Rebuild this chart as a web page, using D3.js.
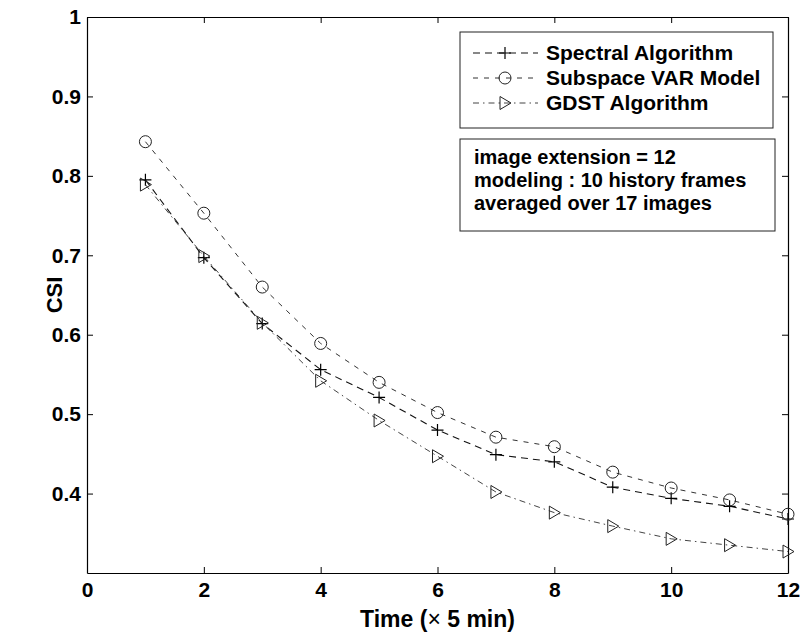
<!DOCTYPE html>
<html>
<head>
<meta charset="utf-8">
<script src="https://cdn.jsdelivr.net/npm/d3@7/dist/d3.min.js"></script>
<style>
  html, body { margin: 0; padding: 0; background: #fff; }
  svg { display: block; font-family: "Liberation Sans", Arial, Helvetica, sans-serif; }
  .axis text { font-weight: bold; font-size: 21px; fill: #000; }
  .axis path, .axis line { stroke: #000; }
</style>
</head>
<body>
<svg id="chart" width="804" height="636"></svg>
<script>
// CSI over forecast lead time (time steps of 5 minutes)
const timeSteps = [1, 2, 3, 4, 5, 6, 7, 8, 9, 10, 11, 12];
const spectral  = [0.795, 0.697, 0.614, 0.556, 0.521, 0.480, 0.449, 0.440, 0.408, 0.394, 0.384, 0.368];
const subspace  = [0.843, 0.753, 0.660, 0.589, 0.540, 0.502, 0.471, 0.459, 0.427, 0.407, 0.392, 0.374];
const gdst      = [0.789, 0.699, 0.615, 0.542, 0.492, 0.447, 0.402, 0.376, 0.359, 0.343, 0.335, 0.327];

const seriesNames = ["Spectral Algorithm", "Subspace VAR Model", "GDST Algorithm"];
const xTicks = [0, 2, 4, 6, 8, 10, 12];
const yTicks = [0.4, 0.5, 0.6, 0.7, 0.8, 0.9, 1];
const noteLines = ["image extension = 12", "modeling : 10 history frames", "averaged over 17 images"];

const svg = d3.select("#chart");
const plotL = 87, plotR = 788, plotT = 17, plotB = 573;

const x = d3.scaleLinear().domain([0, 12]).range([plotL, plotR]);
const y = d3.scaleLinear().domain([0.3, 1]).range([plotB, plotT]);

const yFmt = d => d === 1 ? "1" : d3.format(".1f")(d);

// frame with inward ticks on all four sides
svg.append("g").attr("class", "axis")
  .attr("transform", `translate(0,${plotB})`)
  .call(d3.axisBottom(x).tickValues(xTicks).tickSizeInner(-6).tickSizeOuter(0).tickPadding(9));
svg.append("g").attr("class", "axis")
  .attr("transform", `translate(0,${plotT})`)
  .call(d3.axisTop(x).tickValues(xTicks).tickSizeInner(-6).tickSizeOuter(0).tickFormat(""));
svg.append("g").attr("class", "axis")
  .attr("transform", `translate(${plotL},0)`)
  .call(d3.axisLeft(y).tickValues(yTicks).tickSizeInner(-6).tickSizeOuter(0).tickPadding(6).tickFormat(yFmt));
svg.append("g").attr("class", "axis")
  .attr("transform", `translate(${plotR},0)`)
  .call(d3.axisRight(y).tickValues(yTicks).tickSizeInner(-6).tickSizeOuter(0).tickFormat(""));

svg.selectAll(".axis .domain").attr("stroke-width", 1.2);
svg.selectAll(".axis .tick line").attr("stroke-width", 1);

// axis titles
const xt = svg.append("text")
  .attr("x", (plotL + plotR) / 2).attr("y", 627)
  .attr("text-anchor", "middle")
  .attr("font-size", 23).attr("font-weight", "bold");
xt.append("tspan").text("Time (");
xt.append("tspan").attr("font-weight", "normal").text("×");
xt.append("tspan").text(" 5 min)");

svg.append("text")
  .attr("transform", `translate(62,${(plotT + plotB) / 2}) rotate(-90)`)
  .attr("text-anchor", "middle")
  .attr("font-size", 22).attr("font-weight", "bold")
  .text("CSI");

// marker painters
const markers = {
  plus: (g, cx, cy) => g.append("path")
    .attr("d", `M${cx - 6},${cy}H${cx + 6}M${cx},${cy - 6}V${cy + 6}`)
    .attr("stroke", "#000").attr("stroke-width", 1.2).attr("fill", "none"),
  circle: (g, cx, cy) => g.append("circle")
    .attr("cx", cx).attr("cy", cy).attr("r", 6)
    .attr("stroke", "#222").attr("stroke-width", 1).attr("fill", "none"),
  tri: (g, cx, cy) => g.append("path")
    .attr("d", `M${cx - 5},${cy - 6.5}L${cx + 6},${cy}L${cx - 5},${cy + 6.5}Z`)
    .attr("stroke", "#222").attr("stroke-width", 1).attr("fill", "none")
};

const series = [
  { name: seriesNames[0], values: spectral, dash: "7,5", color: "#111", width: 1.1, marker: "plus" },
  { name: seriesNames[1], values: subspace, dash: "5,6", color: "#333", width: 1, marker: "circle" },
  { name: seriesNames[2], values: gdst, dash: "6,4,1.5,4", color: "#444", width: 1, marker: "tri" }
];

const line = d3.line().x(d => x(d[0])).y(d => y(d[1]));

series.forEach(s => {
  const pts = timeSteps.map((t, i) => [t, s.values[i]]);
  svg.append("path")
    .datum(pts)
    .attr("d", line)
    .attr("fill", "none")
    .attr("stroke", s.color)
    .attr("stroke-width", s.width)
    .attr("stroke-dasharray", s.dash);
  const g = svg.append("g");
  pts.forEach(p => markers[s.marker](g, x(p[0]), y(p[1])));
});

// legend
const lg = svg.append("g");
lg.append("rect")
  .attr("x", 460).attr("y", 32).attr("width", 313).attr("height", 96)
  .attr("fill", "#fff").attr("stroke", "#222").attr("stroke-width", 1);
series.forEach((s, i) => {
  const cy = 53 + i * 25;
  lg.append("path")
    .attr("d", `M473,${cy}H538`)
    .attr("stroke", s.color).attr("stroke-width", s.width)
    .attr("stroke-dasharray", s.dash).attr("fill", "none");
  markers[s.marker](lg, 505, cy);
  lg.append("text")
    .attr("x", 546).attr("y", cy + 7)
    .attr("font-size", 21).attr("font-weight", "bold")
    .text(s.name);
});

// annotation box
const nb = svg.append("g");
nb.append("rect")
  .attr("x", 460).attr("y", 139).attr("width", 315).attr("height", 92)
  .attr("fill", "#fff").attr("stroke", "#222").attr("stroke-width", 1);
noteLines.forEach((t, i) => {
  nb.append("text")
    .attr("x", 474).attr("y", 164 + i * 23)
    .attr("font-size", 20).attr("font-weight", "bold")
    .text(t);
});
</script>
</body>
</html>
